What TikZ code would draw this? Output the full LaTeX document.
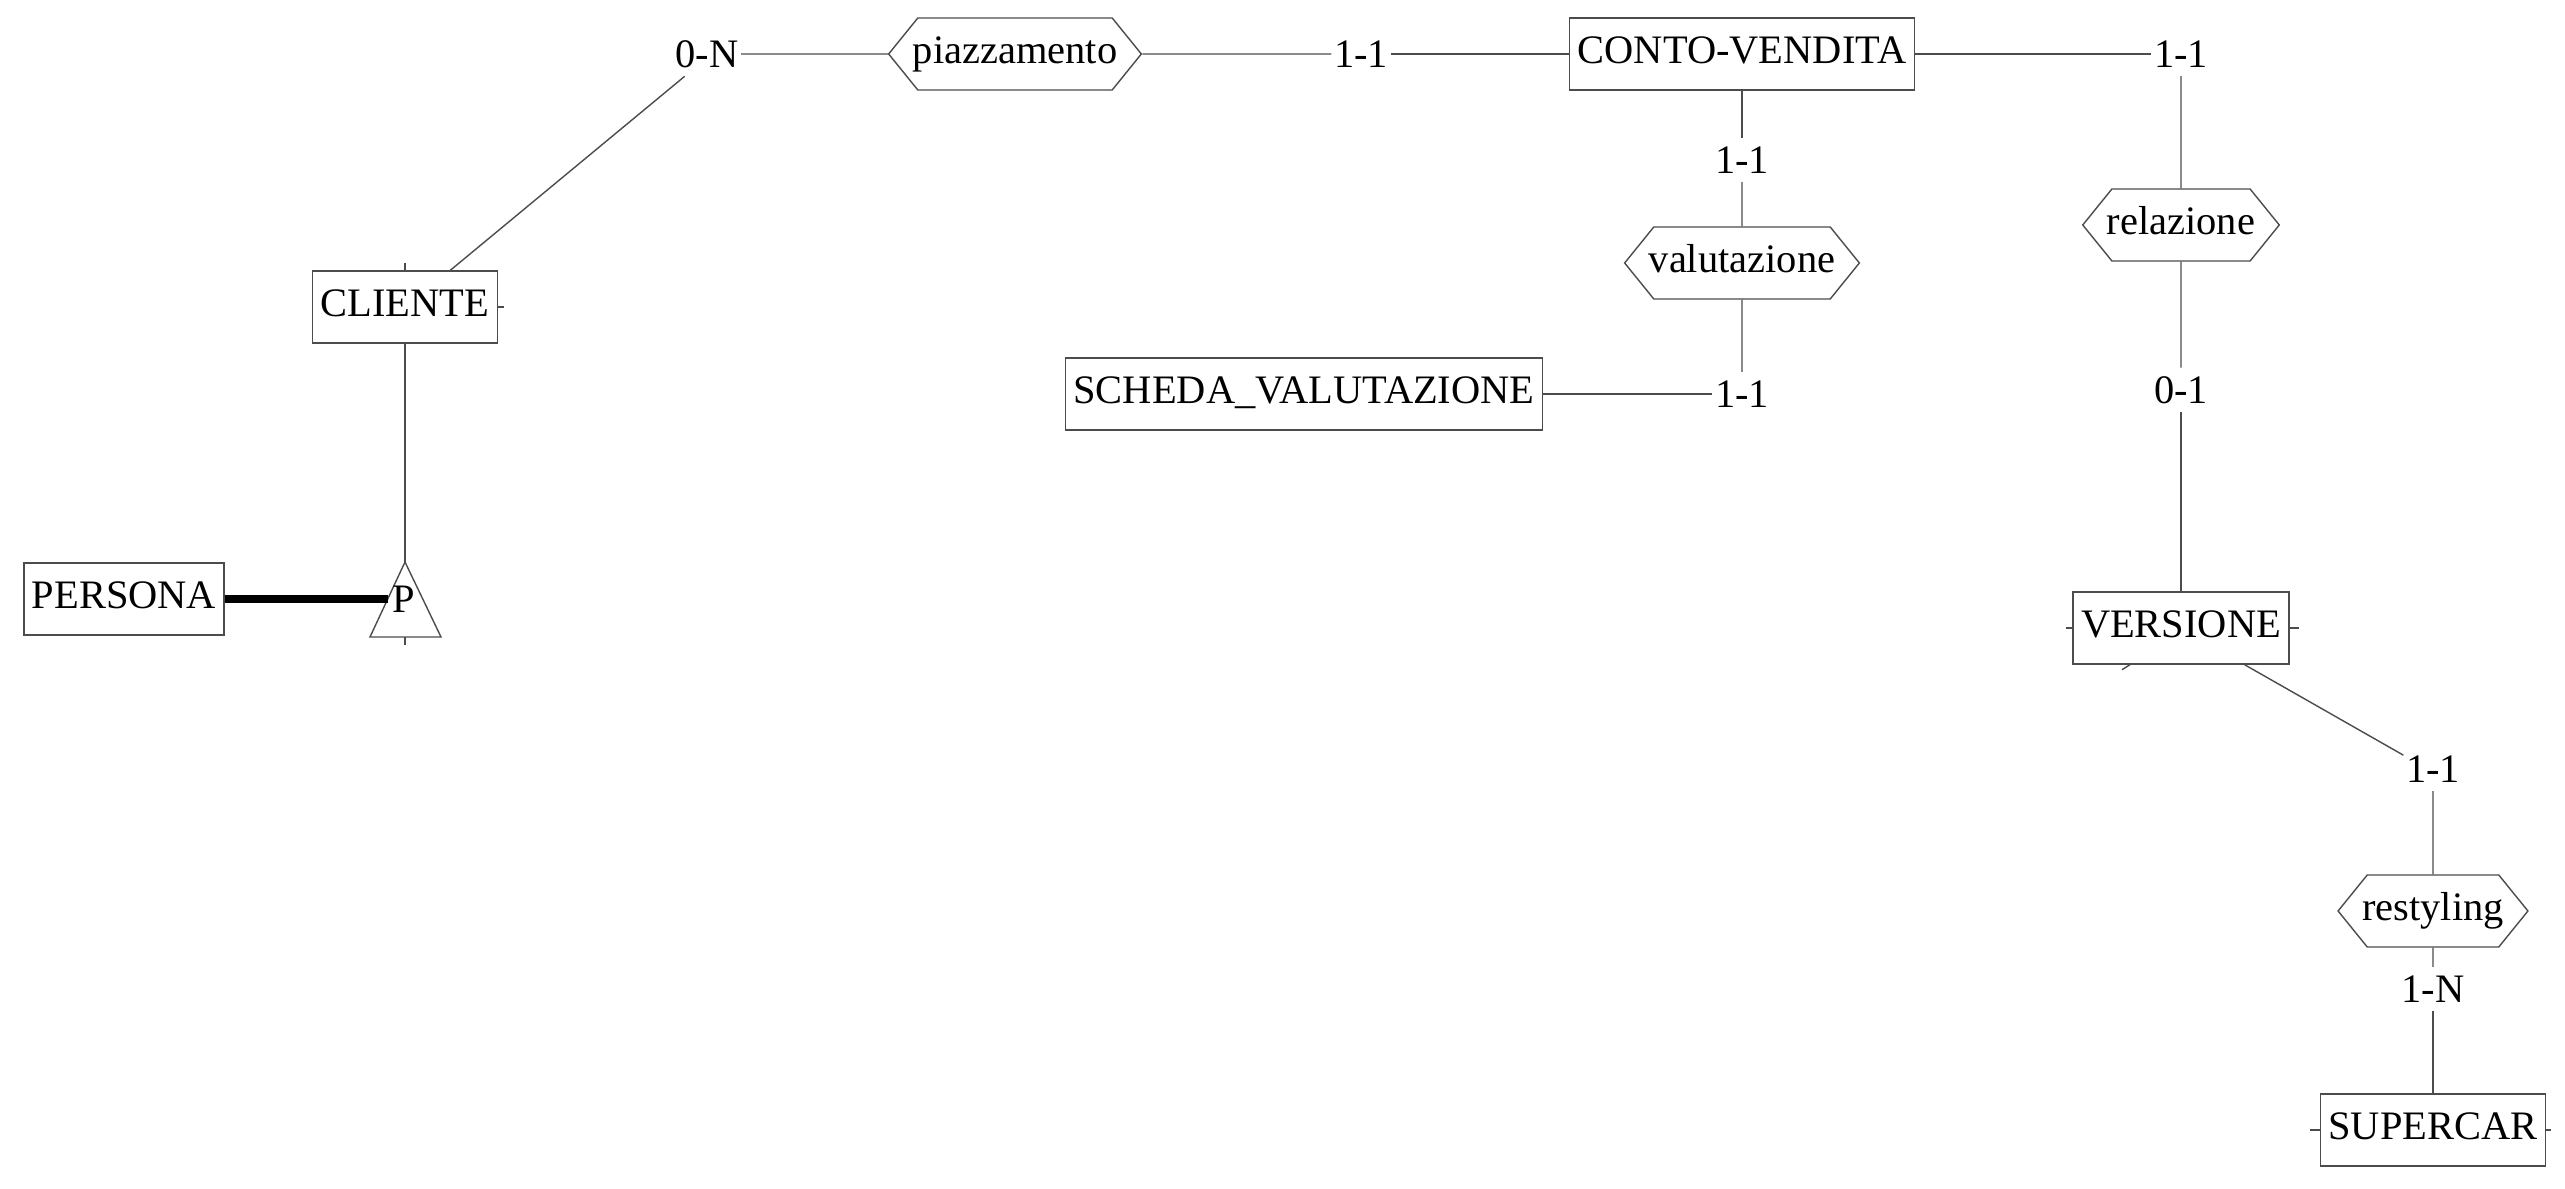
\documentclass[tikz,border=0pt]{standalone}
\usepackage{fontspec}
\setmainfont{Liberation Serif}
\usepackage{tikz}
\usetikzlibrary{shapes.symbols}

\begin{document}
\begin{tikzpicture}[x=0.01cm, y=-0.01cm, line width=0.4pt, font=\fontsize{11.5}{14}\selectfont,
entity/.style={draw=black!70, rectangle, inner xsep=0.08cm, inner ysep=0.18cm, text height=0.28cm, text depth=0.08cm},
rel/.style={draw=black!70, signal, signal to=east and west, signal pointer angle=102, inner xsep=-0.05cm, inner ysep=0.18cm, text height=0.28cm, text depth=0.08cm},
card/.style={inner xsep=0.02cm, inner ysep=0.08cm},
link/.style={draw=black!70}
]
\useasboundingbox (0,0) rectangle (2565,1189);

% entities
\node[entity] (persona) at (124,599) {PERSONA};
\node[entity] (cliente) at (405,307) {CLIENTE};
\node[entity] (conto) at (1742,54) {CONTO-VENDITA};
\node[entity] (scheda) at (1304,394) {SCHEDA\_VALUTAZIONE};
\node[entity] (versione) at (2181,628) {VERSIONE};
\node[entity] (supercar) at (2433,1130) {SUPERCAR};

% relationships
\node[rel] (piazz) at (1015,54) {piazzamento};
\node[rel] (valut) at (1742,263) {valutazione};
\node[rel] (relaz) at (2181,225) {relazione};
\node[rel] (restyl) at (2433,911) {restyling};

% cardinalities
\node[card] (c0n) at (707,54) {0-N};
\node[card] (c11a) at (1361,54) {1-1};
\node[card] (c11b) at (2181,54) {1-1};
\node[card] (c11d) at (1742,160) {1-1};
\node[card] (c11e) at (1742,394) {1-1};
\node[card] (c01) at (2181,390) {0-1};
\node[card] (c11c) at (2433,769) {1-1};
\node[card] (c1n) at (2433,989) {1-N};

% generalization
\coordinate (apex) at (405,562);
\coordinate (pleft) at (388,599);
\draw[link] (apex) -- (441,637) -- (370,637) -- cycle;
\node (pgen) at (404,599) {P};
\draw[line width=0.08cm] (persona.east) -- (pleft);
\draw[link] (cliente) -- (apex);

% links
\draw[link] (cliente.39) -- (c0n.225);
\draw[link] (c0n) -- (piazz);
\draw[link] (piazz) -- (c11a);
\draw[link] (c11a) -- (conto);
\draw[link] (conto) -- (c11b);
\draw[link] (c11b) -- (relaz);
\draw[link] (relaz) -- (c01);
\draw[link] (c01) -- (versione);
\draw[link] (conto) -- (c11d);
\draw[link] (c11d) -- (valut);
\draw[link] (valut) -- (c11e);
\draw[link] (c11e) -- (scheda);
\draw[link] (versione.-30) -- (c11c.155);
\draw[link] (c11c) -- (restyl);
\draw[link] (restyl) -- (c1n);
\draw[link] (c1n) -- (supercar);

% small stubs
\draw[link] (cliente.north) -- ++(0,-7);
\draw[link] (cliente.east) -- ++(6,0);
\draw[link] (405,637) -- ++(0,8);
\draw[link] (versione.west) -- ++(-6,0);
\draw[link] (versione.east) -- ++(9,0);
\draw[link] ([xshift=-0.51cm]versione.south) -- ++(-8,5);
\draw[link] (supercar.west) -- ++(-10,0);
\draw[link] (supercar.east) -- ++(5,0);
\end{tikzpicture}
\end{document}
